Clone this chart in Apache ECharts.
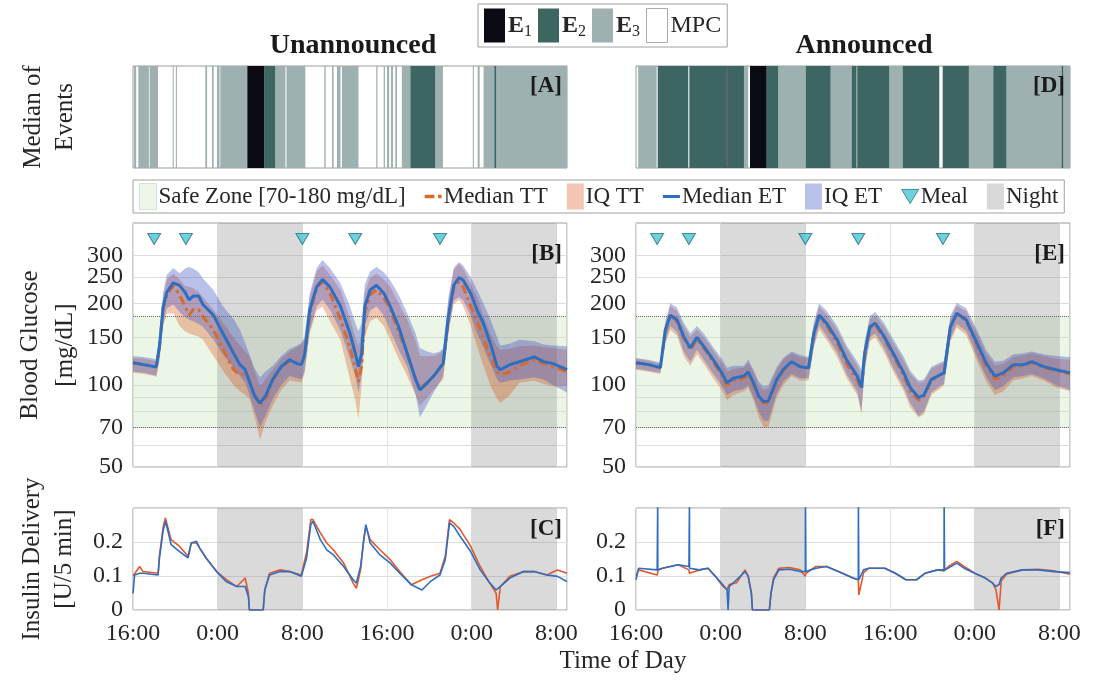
<!DOCTYPE html>
<html>
<head>
<meta charset="utf-8">
<script src="https://cdn.jsdelivr.net/npm/echarts@6.0.0/dist/echarts.min.js"></script>
<style>
html, body { margin: 0; padding: 0; background: #fff; }
#chart { width: 1093px; height: 681px; }
</style>
</head>
<body>
<div id="chart"></div>
<script>
// hours since 16:00 of day 1
const meals = [2, 5, 16, 21, 29];
const mealLevel = 345;
const nights = [[8, 16], [32, 40]];
const safeZone = [70, 180];
const gluLabels = [50, 70, 100, 150, 200, 250, 300];
const gluGrid = [50, 60, 70, 80, 90, 100, 150, 200, 250, 300];

// events: [start, end, type]  type 1 = E1, 2 = E2, 3 = E3 (MPC elsewhere)
const eventsUnann = [
    [0.1, 0.3, 3], [0.5, 1.5, 3], [1.57, 2.36, 3], [3.75, 3.85, 3], [4.05, 4.15, 3],
    [6.83, 7.0, 3], [7.46, 7.62, 3], [7.93, 8.18, 3], [8.25, 10.8, 3], [10.8, 12.4, 1],
    [12.4, 13.44, 2], [13.44, 14.4, 3], [14.5, 16.28, 3], [18.07, 18.2, 3], [18.8, 18.95, 3],
    [19.27, 19.6, 3], [19.74, 21.3, 3], [22.98, 23.1, 3], [23.68, 23.8, 3], [24.0, 24.2, 3],
    [24.37, 24.56, 3], [24.78, 24.94, 3], [25.4, 26.2, 3], [26.2, 28.56, 2], [28.56, 29.28, 3],
    [32.1, 32.2, 3], [32.56, 32.75, 3], [33.12, 34.13, 3], [34.13, 34.32, 2], [34.32, 41, 3]
];
const eventsAnn = [
    [0.2, 1.95, 3], [2.05, 4.94, 2], [5.04, 8.56, 2], [8.56, 8.63, 1], [8.63, 10.2, 2],
    [10.2, 10.6, 3], [10.77, 12.34, 1], [12.34, 13.44, 2], [13.44, 16.03, 3], [16.03, 18.39, 2],
    [18.39, 20.37, 3], [20.37, 20.84, 2], [20.9, 23.93, 2], [23.93, 25.19, 3], [25.19, 28.65, 2],
    [28.97, 31.45, 2], [31.45, 33.75, 3], [33.75, 35.0, 2], [35.0, 40.2, 3], [40.2, 40.37, 2],
    [40.37, 41, 3]
];

// blood glucose, unannounced [mg/dL]
const tGluU = [0, 1, 2, 2.2, 2.5, 2.85, 3.2, 3.8, 4.4, 4.9, 5.3, 5.7, 6.2, 6.6, 7.6, 8.5, 9.5, 10.1, 10.6, 11.0,
    11.5, 12.0, 12.5, 13.2, 14.0, 14.8, 15.5, 15.9, 16.2, 16.7, 17.35, 17.9, 18.6, 19.6, 20.5, 21.0, 21.3, 21.6,
    21.9, 22.4, 23.0, 23.7, 24.3, 25.1, 25.9, 26.7, 27.1, 27.8, 28.4, 29.0, 29.3, 29.8, 30.3, 30.8, 31.2, 31.9,
    32.5, 33.1, 33.75, 34.4, 34.7, 35.6, 36.5, 37.9, 38.8, 39.7, 41];
const etMedU = [121, 119, 117, 117, 139, 195, 220, 238, 233, 220, 206, 213, 213, 198, 181, 155, 131, 119, 114, 103,
    91, 86, 91, 105, 117, 124, 120, 119, 129, 189, 230, 245, 230, 195, 155, 131, 117, 131, 195, 224,
    233, 218, 195, 164, 131, 105, 96, 102, 108, 116, 120, 179, 233, 249, 243, 218, 189, 169, 143, 117,
    114, 119, 122, 127, 122, 120, 114];
const ttMedU = [121, 119, 117, 117, 138, 192, 215, 232, 215, 195, 181, 190, 190, 179, 160, 135, 114, 109, 110, 104,
    93, 84, 88, 104, 116, 123, 121, 119, 128, 184, 228, 240, 218, 175, 138, 115, 103, 118, 185, 215,
    224, 210, 190, 157, 130, 105, 98, 102, 108, 116, 120, 175, 228, 240, 230, 195, 172, 150, 128, 112,
    109, 112, 118, 124, 120, 117, 112];
const etHiU = [128, 127, 125, 124, 150, 220, 255, 270, 258, 268, 272, 268, 260, 247, 224, 195, 175, 160, 143, 130,
    115, 107, 112, 118, 128, 136, 140, 143, 150, 218, 270, 289, 270, 237, 195, 169, 158, 170, 235, 262,
    272, 260, 243, 215, 184, 155, 137, 133, 131, 133, 137, 210, 270, 284, 275, 250, 224, 200, 175, 150,
    140, 142, 147, 145, 141, 140, 139];
const etLoU = [112, 111, 109, 108, 125, 170, 192, 198, 186, 178, 174, 172, 168, 164, 147, 130, 116, 108, 102, 92,
    80, 70, 77, 89, 100, 108, 106, 105, 112, 159, 195, 206, 190, 159, 125, 108, 94, 110, 165, 188,
    195, 180, 159, 135, 117, 92, 76, 85, 94, 103, 108, 160, 205, 211, 205, 180, 155, 138, 120, 105,
    102, 104, 105, 107, 105, 100, 94];
const ttHiU = [126, 125, 123, 122, 145, 210, 245, 257, 245, 232, 230, 228, 220, 211, 190, 170, 150, 140, 133, 128,
    112, 99, 105, 114, 125, 133, 138, 141, 148, 210, 262, 276, 255, 224, 175, 150, 139, 155, 220, 248,
    257, 245, 230, 200, 174, 145, 128, 128, 128, 131, 135, 205, 265, 280, 268, 235, 211, 180, 155, 139,
    135, 136, 139, 140, 138, 137, 135];
const ttLoU = [111, 110, 108, 107, 123, 165, 183, 184, 165, 158, 155, 153, 151, 147, 128, 113, 100, 95, 92, 89,
    76, 63, 73, 84, 96, 104, 103, 102, 110, 155, 188, 195, 172, 147, 105, 88, 75, 100, 150, 172,
    177, 165, 147, 125, 108, 92, 84, 90, 96, 102, 105, 155, 198, 206, 195, 165, 139, 118, 100, 89,
    86, 92, 102, 104, 101, 99, 99];

// blood glucose, announced [mg/dL]
const tGluA = [0, 1.2, 2.3, 2.77, 3.24, 3.87, 4.5, 5.13, 5.76, 6.4, 7.3, 8.1, 8.6, 9.2, 10.2, 10.6, 11.1, 11.6, 12.05,
    12.5, 13.3, 13.9, 14.7, 15.5, 16.3, 16.8, 17.3, 18.0, 19.0, 19.9, 20.9, 21.3, 21.6, 22.1, 22.6, 23.4, 24.3,
    25.3, 25.9, 26.7, 27.2, 27.9, 28.7, 29.1, 29.7, 30.3, 31.2, 32.2, 33.1, 33.9, 34.7, 35.65, 36.6, 37.4, 38.5,
    39.7, 41];
const etMedA = [121, 119, 116, 160, 181, 174, 151, 137, 150, 139, 124, 111, 102, 106, 108, 112, 102, 91, 87, 87.5,
    105, 114, 122, 117, 116, 155, 181, 169, 147, 124, 108, 98, 131, 164, 169, 152, 131, 111, 98, 90,
    92, 105, 109, 111, 164, 184, 174, 143, 120, 108, 111, 119, 119, 122, 117, 114, 111];
const ttMedA = [121, 119, 116, 158, 180, 172, 149, 135, 148, 137, 122, 108, 100, 104, 106, 110, 100, 89, 86, 86,
    103, 113, 121, 117, 116, 153, 180, 166, 143, 120, 104, 97, 128, 162, 167, 150, 128, 108, 95, 88,
    91, 104, 109, 111, 162, 183, 172, 140, 117, 105, 108, 117, 118, 121, 116, 113, 110];
const etHiA = [126, 124, 121, 172, 200, 193, 170, 155, 165, 155, 138, 125, 116, 118, 118, 124, 114, 103, 99, 100,
    117, 126, 133, 129, 127, 170, 200, 188, 165, 140, 122, 114, 145, 180, 186, 170, 148, 127, 113, 104,
    105, 117, 121, 123, 180, 201, 192, 160, 134, 122, 123, 130, 131, 133, 130, 128, 127];
const etLoA = [115, 113, 111, 145, 165, 157, 133, 122, 135, 124, 110, 100, 92, 95, 97, 100, 90, 80, 74, 74,
    93, 103, 110, 106, 106, 140, 166, 152, 132, 110, 95, 80, 116, 150, 155, 138, 116, 98, 86, 77,
    80, 94, 99, 101, 148, 168, 158, 128, 107, 96, 99, 107, 108, 110, 106, 100, 96];
const ttHiA = [125, 123, 120, 168, 195, 188, 165, 150, 160, 150, 134, 121, 112, 115, 116, 121, 112, 100, 96, 97,
    114, 124, 131, 127, 126, 166, 195, 182, 160, 136, 118, 108, 140, 175, 180, 165, 143, 123, 110, 102,
    103, 115, 119, 121, 176, 196, 187, 155, 130, 118, 120, 127, 129, 131, 128, 125, 124];
const ttLoA = [114, 112, 110, 142, 160, 152, 128, 118, 130, 120, 106, 96, 88, 92, 95, 98, 88, 76, 70, 70,
    90, 100, 108, 104, 104, 137, 160, 147, 127, 106, 92, 78, 113, 145, 150, 133, 112, 95, 83, 76,
    78, 92, 97, 100, 145, 163, 153, 123, 103, 92, 95, 104, 106, 108, 104, 98, 95];

// insulin delivery, unannounced [U/5 min]
const tInsU = [0, 0.15, 0.63, 0.95, 2.37, 2.5, 2.84, 3.06, 3.3, 3.6, 4.4, 5.2, 5.5, 6.0, 6.3, 6.9, 7.9, 8.8, 9.8, 10.6,
    10.9, 11.0, 12.3, 12.45, 12.9, 13.9, 14.8, 15.9, 16.4, 16.8, 17.0, 17.7, 18.3, 18.9, 19.9, 20.8, 21.1, 21.5,
    21.8, 22.0, 22.4, 23.3, 24.3, 25.2, 26.3, 27.3, 28.1, 29.0, 29.5, 29.9, 30.3, 30.9, 31.9, 32.8, 33.6, 34.3,
    34.45, 34.7, 35.6, 36.9, 37.9, 39.1, 40.1, 41];
const etInsU = [0.049, 0.103, 0.108, 0.108, 0.103, 0.153, 0.232, 0.261, 0.232, 0.192, 0.172, 0.153, 0.197, 0.202,
    0.182, 0.153, 0.113, 0.084, 0.069, 0.069, 0.039, 0, 0, 0.059, 0.103, 0.113, 0.113, 0.099, 0.153, 0.251,
    0.261, 0.207, 0.177, 0.163, 0.128, 0.089, 0.079, 0.128, 0.207, 0.251, 0.197, 0.163, 0.138, 0.108, 0.074,
    0.059, 0.084, 0.103, 0.148, 0.256, 0.246, 0.217, 0.172, 0.118, 0.084, 0.059, 0.062, 0.069, 0.094, 0.113,
    0.113, 0.103, 0.099, 0.084];
const ttInsU = [0.1, 0.105, 0.128, 0.113, 0.108, 0.16, 0.242, 0.271, 0.242, 0.207, 0.187, 0.158, 0.197, 0.197,
    0.182, 0.153, 0.113, 0.09, 0.069, 0.094, 0.05, 0, 0, 0.06, 0.108, 0.118, 0.113, 0.103, 0.17, 0.266,
    0.266, 0.227, 0.197, 0.178, 0.138, 0.079, 0.064, 0.118, 0.207, 0.246, 0.207, 0.178, 0.148, 0.113, 0.074,
    0.089, 0.099, 0.108, 0.158, 0.266, 0.256, 0.237, 0.187, 0.128, 0.084, 0.05, 0, 0.069, 0.099, 0.113,
    0.113, 0.103, 0.118, 0.108];

// insulin delivery, announced [U/5 min]
const tInsA = [0, 0.25, 2.0, 2.05, 2.06, 2.5, 4.0, 5.0, 5.05, 5.06, 6.0, 6.8, 7.5, 8.2, 8.6, 8.7, 8.8, 9.5, 10.3, 10.6,
    10.9, 11.0, 12.6, 12.75, 13.0, 13.5, 14.5, 15.5, 16.0, 16.01, 16.05, 17.0, 18.0, 19.5, 20.5, 21.0, 21.01,
    21.05, 21.5, 22.0, 23.5, 24.5, 25.5, 26.5, 27.3, 28.5, 29.1, 29.11, 29.15, 29.5, 30.3, 31.0, 32.0, 33.0,
    33.7, 34.0, 34.3, 34.5, 35.0, 36.5, 38.0, 39.5, 41];
const etInsA = [0.089, 0.123, 0.118, 0.32, 0.118, 0.123, 0.133, 0.128, 0.32, 0.123, 0.118, 0.123, 0.099, 0.074,
    0.059, 0, 0.069, 0.089, 0.113, 0.099, 0.049, 0, 0, 0.049, 0.089, 0.118, 0.12, 0.113, 0.113, 0.32,
    0.113, 0.123, 0.128, 0.108, 0.094, 0.089, 0.32, 0.089, 0.118, 0.123, 0.123, 0.108, 0.089, 0.089, 0.108,
    0.118, 0.118, 0.32, 0.118, 0.123, 0.138, 0.123, 0.108, 0.094, 0.079, 0.069, 0.075, 0.094, 0.108, 0.118,
    0.118, 0.113, 0.11];
const ttInsA = [0.1, 0.118, 0.103, 0.11, 0.118, 0.123, 0.133, 0.118, 0.108, 0.113, 0.118, 0.123, 0.099, 0.07,
    0.06, 0.065, 0.075, 0.08, 0.118, 0.1, 0.05, 0, 0, 0.05, 0.095, 0.123, 0.125, 0.118, 0.099, 0.1,
    0.108, 0.128, 0.128, 0.108, 0.094, 0.089, 0.08, 0.044, 0.11, 0.123, 0.123, 0.108, 0.089, 0.089, 0.108,
    0.118, 0.115, 0.113, 0.115, 0.128, 0.143, 0.128, 0.108, 0.094, 0.079, 0.06, 0, 0.085, 0.105, 0.118,
    0.12, 0.115, 0.105];

const FONT = 'Liberation Serif';
const TXT = '#262626';
const eventColors = {1: '#0b0b14', 2: '#3d6663', 3: '#9eb0b0'};
const eventNames = {1: 'E1', 2: 'E2', 3: 'E3'};
const C_ET = '#2c6fc2';
const C_TT = '#d96a2a';
const C_TT_INS = '#e4572e';
const C_IQ_TT = 'rgba(217, 83, 25, 0.33)';
const C_IQ_ET = 'rgba(70, 90, 200, 0.38)';
const C_SAFE = 'rgba(200, 230, 185, 0.35)';
const C_NIGHT = 'rgba(140, 140, 140, 0.32)';

let chartDom = document.getElementById('chart');
let chart = echarts.init(chartDom);

const pair = (t, v) => t.map((x, i) => [x, v[i]]);
const hourLabel = v => ((16 + v) % 24) + ':00';

function eventSeries(idx, events, type) {
    return {
        name: eventNames[type], type: 'custom', xAxisIndex: idx, yAxisIndex: idx,
        data: events.filter(e => e[2] === type),
        encode: {x: [0, 1]},
        itemStyle: {color: eventColors[type]},
        renderItem: function (params, api) {
            const p0 = api.coord([api.value(0), 1]);
            const p1 = api.coord([api.value(1), 0]);
            return {
                type: 'rect',
                shape: {x: p0[0], y: p0[1], width: p1[0] - p0[0], height: p1[1] - p0[1]},
                style: {fill: eventColors[type]}
            };
        }
    };
}

function bandSeries(name, idx, t, lo, hi, color) {
    return {
        name: name, type: 'custom', xAxisIndex: idx, yAxisIndex: idx, z: 3,
        data: t.map((x, i) => [x, lo[i], hi[i]]),
        encode: {x: 0, y: [1, 2]},
        itemStyle: {color: color},
        renderItem: function (params, api) {
            if (params.dataIndex !== 0) return null;
            const upper = t.map((x, i) => api.coord([x, hi[i]]));
            const lower = t.map((x, i) => api.coord([x, lo[i]])).reverse();
            return {type: 'polygon', shape: {points: upper.concat(lower)}, style: {fill: color}};
        }
    };
}

function nightSeries(idx) {
    return {
        name: 'Night', type: 'line', xAxisIndex: idx, yAxisIndex: idx, data: [], z: 2,
        itemStyle: {color: '#d9d9d9'},
        markArea: {
            silent: true, itemStyle: {color: C_NIGHT},
            data: nights.map(n => [{xAxis: n[0]}, {xAxis: n[1]}])
        }
    };
}

function glucoseSeries(idx, t, etMed, ttMed, etLo, etHi, ttLo, ttHi) {
    return [
        {
            name: 'Safe Zone [70-180 mg/dL]', type: 'line', xAxisIndex: idx, yAxisIndex: idx, data: [], z: 1,
            markArea: {silent: true, itemStyle: {color: C_SAFE}, data: [[{yAxis: safeZone[0]}, {yAxis: safeZone[1]}]]},
            markLine: {
                silent: true, symbol: 'none', label: {show: false},
                lineStyle: {color: '#6e6e6e', type: 'dotted', width: 1},
                data: safeZone.map(v => ({yAxis: v}))
            }
        },
        nightSeries(idx),
        bandSeries('IQ TT', idx, t, ttLo, ttHi, C_IQ_TT),
        bandSeries('IQ ET', idx, t, etLo, etHi, C_IQ_ET),
        {
            name: 'Median TT', type: 'line', xAxisIndex: idx, yAxisIndex: idx, z: 4,
            data: pair(t, ttMed), symbol: 'none',
            itemStyle: {color: C_TT},
            lineStyle: {color: C_TT, width: 3, type: [9, 4, 3, 4]}
        },
        {
            name: 'Median ET', type: 'line', xAxisIndex: idx, yAxisIndex: idx, z: 5,
            data: pair(t, etMed), symbol: 'none',
            itemStyle: {color: C_ET},
            lineStyle: {color: C_ET, width: 3}
        },
        {
            name: 'Meal', type: 'scatter', xAxisIndex: idx, yAxisIndex: idx, z: 6,
            data: meals.map(m => [m, mealLevel]),
            symbol: 'triangle', symbolRotate: 180, symbolSize: [13, 11],
            itemStyle: {color: '#48c6d6', borderColor: '#2b6f7e', borderWidth: 1}
        }
    ];
}

function insulinSeries(idx, t, et, tt) {
    return [
        nightSeries(idx),
        {
            name: 'TT insulin', type: 'line', xAxisIndex: idx, yAxisIndex: idx, z: 4,
            data: pair(t, tt), symbol: 'none', lineStyle: {color: C_TT_INS, width: 1.6}
        },
        {
            name: 'ET insulin', type: 'line', xAxisIndex: idx, yAxisIndex: idx, z: 5,
            data: pair(t, et), symbol: 'none', lineStyle: {color: C_ET, width: 1.6}
        }
    ];
}

const lefts = [133, 636];
const grids = [];
[[66, 102], [223, 244], [508, 102]].forEach(function (row) {
    lefts.forEach(function (l) {
        grids.push({left: l, top: row[0], width: 434, height: row[1], show: true,
            borderColor: '#9a9a9a', borderWidth: 1, backgroundColor: 'transparent'});
    });
});

const xAxes = grids.map((g, i) => ({
    type: 'value', gridIndex: i, min: 0, max: 41, interval: 8,
    axisLine: {show: false}, axisTick: {show: false},
    axisLabel: {
        show: i >= 4, formatter: hourLabel, showMaxLabel: false,
        fontFamily: FONT, fontSize: 24, color: TXT, margin: 12
    },
    splitLine: {show: i >= 2, lineStyle: {color: '#e2e2e2'}}
}));

const nameStyle = {fontFamily: FONT, fontSize: 25, color: TXT, lineHeight: 32};
const labelStyle = {fontFamily: FONT, fontSize: 24, color: TXT, margin: 10};

const yAxes = [];
for (let i = 0; i < 2; i++) {
    yAxes.push({
        type: 'value', gridIndex: i, min: 0, max: 1,
        name: i === 0 ? 'Median of\nEvents' : '', nameLocation: 'middle', nameRotate: 90, nameGap: 52,
        nameTextStyle: nameStyle,
        axisLine: {show: false}, axisTick: {show: false}, axisLabel: {show: false}, splitLine: {show: false}
    });
}
for (let i = 2; i < 4; i++) {
    yAxes.push({
        type: 'log', gridIndex: i, min: 50, max: 395, logBase: 10,
        name: i === 2 ? 'Blood Glucose\n[mg/dL]' : '', nameLocation: 'middle', nameRotate: 90, nameGap: 49,
        nameTextStyle: Object.assign({}, nameStyle, {lineHeight: 35}),
        axisLine: {show: false},
        axisTick: {show: false, customValues: gluGrid},
        axisLabel: Object.assign({customValues: gluLabels.slice(0, -1)}, labelStyle),
        splitLine: {show: true, lineStyle: {color: '#dcdcdc'}}
    });
}
for (let i = 4; i < 6; i++) {
    yAxes.push({
        type: 'value', gridIndex: i, min: 0, max: 0.3, interval: 0.1,
        name: i === 4 ? 'Insulin Delivery\n[U/5 min]' : '', nameLocation: 'middle', nameRotate: 90, nameGap: 53,
        nameTextStyle: nameStyle,
        axisLine: {show: false}, axisTick: {show: false},
        axisLabel: Object.assign({showMaxLabel: false}, labelStyle),
        splitLine: {show: true, lineStyle: {color: '#dcdcdc'}}
    });
}
// second label layer for the top glucose tick, which would otherwise collide with 250
for (let i = 2; i < 4; i++) {
    yAxes.push({
        type: 'log', gridIndex: i, min: 50, max: 395, logBase: 10, position: 'left',
        axisLine: {show: false}, axisTick: {show: false}, splitLine: {show: false},
        axisLabel: Object.assign({customValues: gluLabels.slice(-1)}, labelStyle)
    });
}

const series = [];
[[0, eventsUnann], [1, eventsAnn]].forEach(function (p) {
    [3, 2, 1].forEach(type => series.push(eventSeries(p[0], p[1], type)));
});
series.push({name: 'MPC', type: 'line', xAxisIndex: 0, yAxisIndex: 0, data: [],
    itemStyle: {color: '#ffffff', borderColor: '#999', borderWidth: 1}});
series.push.apply(series, glucoseSeries(2, tGluU, etMedU, ttMedU, etLoU, etHiU, ttLoU, ttHiU));
series.push.apply(series, glucoseSeries(3, tGluA, etMedA, ttMedA, etLoA, etHiA, ttLoA, ttHiA));
series.push.apply(series, insulinSeries(4, tInsU, etInsU, ttInsU));
series.push.apply(series, insulinSeries(5, tInsA, etInsA, ttInsA));

const panelTags = [['[A]', 86], ['[D]', 86], ['[B]', 254], ['[E]', 254], ['[C]', 529], ['[F]', 529]];

var option = {
    animation: false,
    backgroundColor: '#fff',
    textStyle: {fontFamily: FONT},
    grid: grids,
    xAxis: xAxes,
    yAxis: yAxes,
    legend: [
        {
            left: 478, top: 4, padding: [4, 6], itemGap: 6, itemWidth: 21, itemHeight: 34,
            borderColor: '#a0a0a0', borderWidth: 1, backgroundColor: '#fff',
            selectedMode: false,
            data: [
                {name: 'E1', icon: 'rect'}, {name: 'E2', icon: 'rect'}, {name: 'E3', icon: 'rect'},
                {name: 'MPC', icon: 'rect', itemStyle: {color: '#fff', borderColor: '#aaa', borderWidth: 1}}
            ],
            formatter: function (name) {
                if (name === 'MPC') return '{m|MPC}';
                return '{e|E}{s|' + name.slice(1) + '}';
            },
            textStyle: {
                color: TXT, fontFamily: FONT, padding: [0, 0, 0, -2],
                rich: {
                    e: {fontFamily: FONT, fontSize: 24, fontWeight: 'bold', color: TXT},
                    s: {fontFamily: FONT, fontSize: 16, color: TXT, padding: [12, 0, 0, 0]},
                    m: {fontFamily: FONT, fontSize: 24, color: TXT}
                }
            }
        },
        {
            left: 133, top: 180, width: 940, padding: [3, 6], itemGap: 19, itemWidth: 17, itemHeight: 26,
            borderColor: '#a0a0a0', borderWidth: 1, backgroundColor: '#fff',
            selectedMode: false,
            textStyle: {color: TXT, fontFamily: FONT, fontSize: 23, padding: [0, 0, 0, -3]},
            data: [
                {name: 'Safe Zone [70-180 mg/dL]', icon: 'rect',
                    itemStyle: {color: '#eef6e9', borderColor: '#b8c8b0', borderWidth: 1, borderType: 'dotted'}},
                {name: 'Median TT', icon: 'path://M0,0 H8 V3 H0 Z M11,0 H14 V3 H11 Z',
                    itemStyle: {color: C_TT, borderWidth: 0}},
                {name: 'IQ TT', icon: 'rect'},
                {name: 'Median ET', icon: 'path://M0,0 H17 V3 H0 Z',
                    itemStyle: {color: C_ET, borderWidth: 0}},
                {name: 'IQ ET', icon: 'rect'},
                {name: 'Meal', icon: 'path://M0,0 L12,0 L6,10 Z',
                    itemStyle: {color: '#48c6d6', borderColor: '#2b6f7e', borderWidth: 1}},
                {name: 'Night', icon: 'rect', itemStyle: {color: '#d9d9d9'}}
            ]
        }
    ],
    graphic: [
        {type: 'text', z: 100, x: 353, y: 46, style: {text: 'Unannounced', font: 'bold 28px "Liberation Serif"',
            fill: '#1a1a1a', align: 'center', verticalAlign: 'middle'}},
        {type: 'text', z: 100, x: 864, y: 46, style: {text: 'Announced', font: 'bold 28px "Liberation Serif"',
            fill: '#1a1a1a', align: 'center', verticalAlign: 'middle'}},
        {type: 'text', z: 100, x: 623, y: 661, style: {text: 'Time of Day', font: '25px "Liberation Serif"',
            fill: TXT, align: 'center', verticalAlign: 'middle'}}
    ].concat(panelTags.map((p, i) => ({
        type: 'text', z: 100, x: lefts[i % 2] + 429, y: p[1],
        style: {text: p[0], font: 'bold 23px "Liberation Serif"', fill: '#1a1a1a',
            align: 'right', verticalAlign: 'middle'}
    }))),
    series: series
};
chart.setOption(option);
</script>
</body>
</html>
